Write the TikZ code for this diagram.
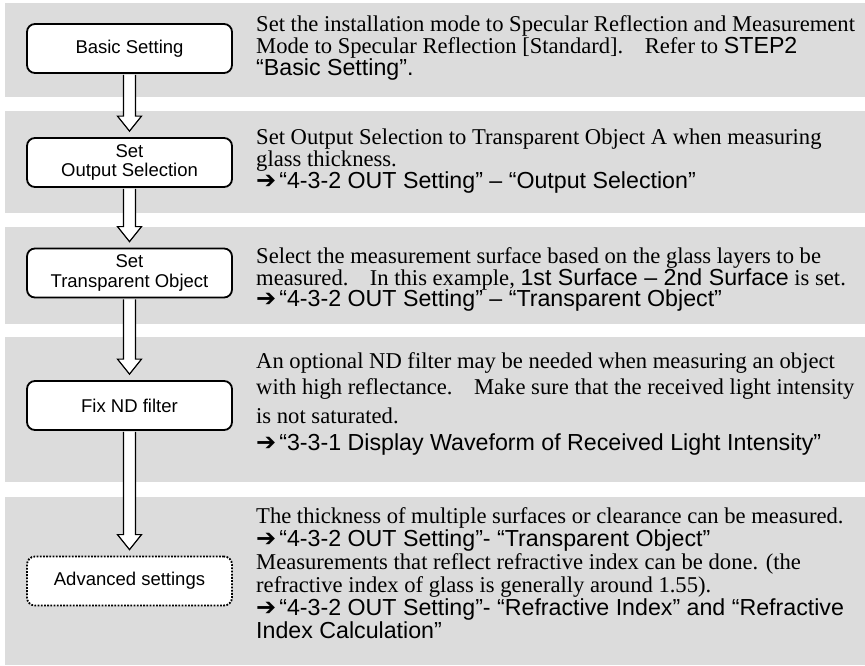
\documentclass[tikz,border=0pt]{standalone}
\usepackage{fontspec}
\setmainfont{Liberation Serif}
\newfontfamily\arialf{Liberation Sans}
\newfontfamily\djvf{DejaVu Sans}
\usetikzlibrary{calc}
\definecolor{bandgray}{RGB}{220,220,220}
\newcommand\arw[1]{{\arialf\fontsize{23.2}{23.2}\selectfont #1}}
\newcommand\myarr{{\djvf\fontsize{24}{24}\selectfont ➔}\hspace{3pt}}
\newcommand\wgap{\hspace{0.95em}}
\begin{document}
\begin{tikzpicture}[x=1pt,y=-1pt,
  stepbox/.style={draw, line width=1.8pt, rounded corners=8pt, fill=white,
    minimum width=205pt, minimum height=49pt, inner sep=0pt, align=center,
    font=\arialf\fontsize{18.5}{19.5}\selectfont},
  dotbox/.style={stepbox, dash pattern=on 1.8pt off 1.4pt},
  txt/.style={anchor=base west, inner sep=0pt, font=\fontsize{22.6}{22.6}\selectfont},
  blockarrow/.style={draw, fill=white, line width=1.2pt, line join=miter}]
\useasboundingbox (0,0) rectangle (865,665);
% bands
\fill[bandgray] (5,3) rectangle (865,97);
\fill[bandgray] (5,111) rectangle (865,213);
\fill[bandgray] (5,227) rectangle (865,324);
\fill[bandgray] (5,337) rectangle (865,482);
\fill[bandgray] (5,497) rectangle (865,665);
% boxes
\node[stepbox] (b1) at (129.5,48.5) {Basic Setting};
\node[stepbox] (b2) at (129.5,162.5) {Set\\Output Selection};
\node[stepbox] (b3) at (129.5,273) {Set\\Transparent Object};
\node[stepbox] (b4) at (129.5,405.5) {Fix ND filter};
\node[dotbox] (b5) at (129.5,581) {Advanced settings};
% block arrows
\foreach \a/\b in {b1/b2,b2/b3,b3/b4,b4/b5}{
  \draw[blockarrow] ($(\a.south)+(-6,1)$) -- ($(\b.north)+(-6,-21)$) -- ($(\b.north)+(-12,-21)$)
    -- ($(\b.north)+(0,-6)$) -- ($(\b.north)+(12,-21)$) -- ($(\b.north)+(6,-21)$) -- ($(\a.south)+(6,1)$);
}
% band 1 text
\node[txt] (t1a) at (256,31) {Set the installation mode to Specular Reflection and Measurement};
\node[txt] (t1b) at (256,53) {Mode to Specular Reflection [Standard].\wgap Refer to \arw{STEP2}};
\node[txt] (t1c) at (256,75) {\arw{“Basic Setting”.}};
% band 2 text
\node[txt] (t2a) at (256,144) {Set Output Selection to Transparent Object A when measuring};
\node[txt] (t2b) at (256,166) {glass thickness.};
\node[txt] (t2c) at (256,188) {\myarr\arw{“4-3-2 OUT Setting” – “Output Selection”}};
% band 3 text
\node[txt] (t3a) at (256,263) {Select the measurement surface based on the glass layers to be};
\node[txt] (t3b) at (256,285) {measured.\wgap In this example, \arw{1st Surface – 2nd Surface} is set.};
\node[txt] (t3c) at (256,306) {\myarr\arw{“4-3-2 OUT Setting” – “Transparent Object”}};
% band 4 text
\node[txt] (t4a) at (256,368) {An optional ND filter may be needed when measuring an object};
\node[txt] (t4b) at (256,394) {with high reflectance.\wgap Make sure that the received light intensity};
\node[txt] (t4c) at (256,423) {is not saturated.};
\node[txt] (t4d) at (256,450) {\myarr\arw{“3-3-1 Display Waveform of Received Light Intensity”}};
% band 5 text
\node[txt] (t5a) at (256,523) {The thickness of multiple surfaces or clearance can be measured.};
\node[txt] (t5b) at (256,546) {\myarr\arw{“4-3-2 OUT Setting”- “Transparent Object”}};
\node[txt] (t5c) at (256,569) {Measurements that reflect refractive index can be done. (the};
\node[txt] (t5d) at (256,592) {refractive index of glass is generally around 1.55).};
\node[txt] (t5e) at (256,615) {\myarr\arw{“4-3-2 OUT Setting”- “Refractive Index” and “Refractive}};
\node[txt] (t5f) at (256,638) {\arw{Index Calculation”}};
\end{tikzpicture}
\end{document}
